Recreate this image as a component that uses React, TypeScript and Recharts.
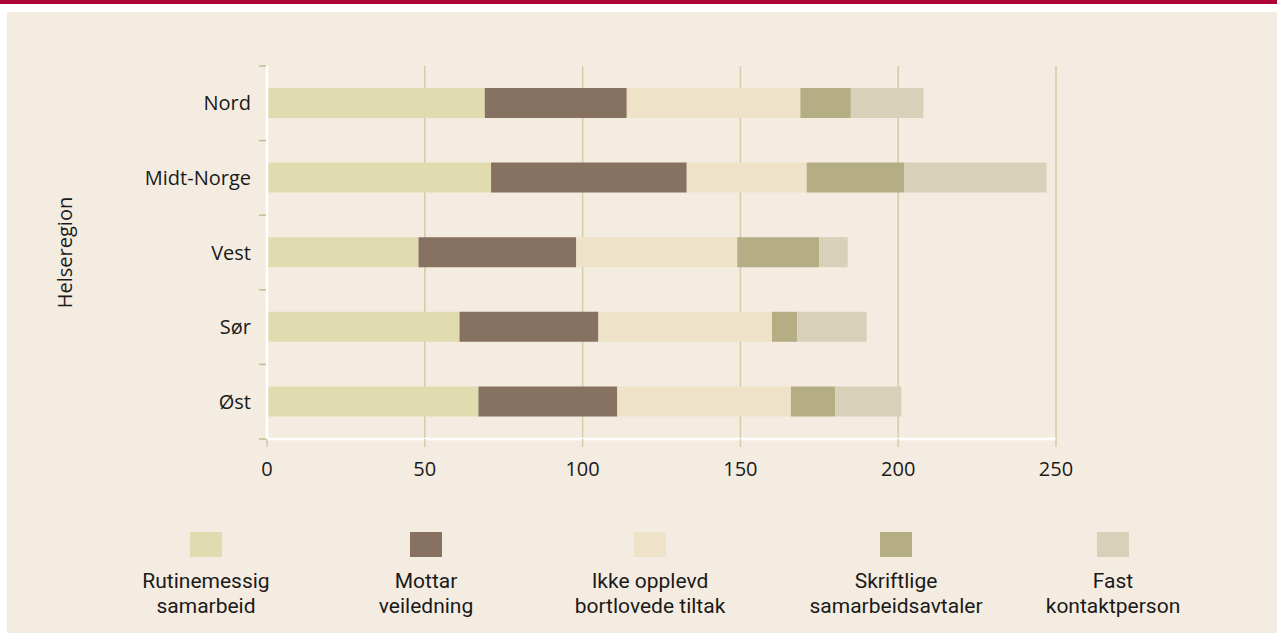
import { BarChart, Bar, XAxis, YAxis, CartesianGrid, Legend } from 'recharts';

const regions = ['Nord', 'Midt-Norge', 'Vest', 'Sør', 'Øst'];
const rutinemessig = [69, 71, 48, 61, 67];
const mottar = [45, 62, 50, 44, 44];
const ikkeOpplevd = [55, 38, 51, 55, 55];
const skriftlige = [16, 31, 26, 8, 14];
const fastKontakt = [23, 45, 9, 22, 21];
const xTicks = [0, 50, 100, 150, 200, 250];

const seriesKeys = ['rutinemessig', 'mottar', 'ikkeOpplevd', 'skriftlige', 'fastKontakt'];
const seriesNames = [
  'Rutinemessig\nsamarbeid',
  'Mottar\nveiledning',
  'Ikke opplevd\nbortlovede tiltak',
  'Skriftlige\nsamarbeidsavtaler',
  'Fast\nkontaktperson',
];
const seriesColors = ['#E0DCAF', '#877160', '#EEE3C8', '#B5AE84', '#D9D0BA'];

const data = regions.map((region, i) => ({
  region,
  rutinemessig: rutinemessig[i],
  mottar: mottar[i],
  ikkeOpplevd: ikkeOpplevd[i],
  skriftlige: skriftlige[i],
  fastKontakt: fastKontakt[i],
}));

const W = 1270;
const H = 621;
const X_AXIS_H = 30;
const M = { top: 54, right: 221, bottom: 194 - X_AXIS_H, left: 0 };
const PLOT_H = H - M.top - M.bottom - X_AXIS_H;
const FONT = "'Open Sans', 'Noto Sans', sans-serif";
const LEGEND_FONT = "Roboto, 'Open Sans', sans-serif";
const FS = 20;
const TEXT = '#1a1a1a';
const GRID = '#D4CBA9';

const RegionTick = (props: any) => {
  const { x, y, payload, index } = props;
  const band = PLOT_H / regions.length;
  return (
    <g>
      <line x1={x - 8} x2={x - 1} y1={y - band / 2} y2={y - band / 2} stroke="#C4BB92" strokeWidth={1.5} />
      {index === regions.length - 1 && (
        <line x1={x - 8} x2={x - 1} y1={y + band / 2} y2={y + band / 2} stroke="#C4BB92" strokeWidth={1.5} />
      )}
      <text x={x - 16} y={y} dy="0.35em" textAnchor="end" fill={TEXT} fontSize={FS} fontFamily={FONT}>
        {payload.value}
      </text>
    </g>
  );
};

// legend item centres, in panel coordinates
const legendX = [199, 419, 643, 889, 1106];

const renderLegend = (props: any) => {
  const items = [...(props.payload || [])].sort(
    (a: any, b: any) => seriesKeys.indexOf(a.dataKey) - seriesKeys.indexOf(b.dataKey)
  );
  return (
    <div style={{ position: 'relative', width: W, height: 100, fontFamily: LEGEND_FONT }}>
      {items.map((entry: any, i: number) => {
        const lines = String(entry.value).split('\n');
        return (
          <div
            key={entry.dataKey}
            style={{
              position: 'absolute',
              left: legendX[i] - 110,
              top: 0,
              width: 220,
              textAlign: 'center',
              color: TEXT,
              fontSize: 21,
              lineHeight: '25px',
            }}
          >
            <div style={{ width: 32, height: 25, background: entry.color, margin: '5px auto 12px' }} />
            {lines.map((l) => (
              <div key={l}>{l}</div>
            ))}
          </div>
        );
      })}
    </div>
  );
};

export default function App() {
  return (
    <div style={{ position: 'absolute', left: 0, top: 0, width: 1277, height: 635, background: '#fff', fontFamily: FONT }}>
      <div style={{ position: 'absolute', left: 0, top: 0, width: 1277, height: 4, background: '#AE0634' }} />
      <div style={{ position: 'absolute', left: 7, top: 12, width: W, height: H, background: '#F4ECE0' }}>
        <BarChart layout="vertical" width={W} height={H} data={data} margin={M} barSize={30} barCategoryGap={0}>
          <CartesianGrid horizontal={false} stroke={GRID} strokeWidth={1.5} />
          <XAxis
            type="number"
            domain={[0, 250]}
            ticks={xTicks}
            interval={0}
            height={X_AXIS_H}
            axisLine={{ stroke: '#ffffff', strokeWidth: 2.5 }}
            tickLine={{ stroke: GRID, strokeWidth: 1.5 }}
            tickSize={8}
            tickMargin={15}
            tick={{ fill: TEXT, fontSize: FS, fontFamily: FONT }}
          />
          <YAxis
            type="category"
            dataKey="region"
            width={260}
            axisLine={{ stroke: '#ffffff', strokeWidth: 2.5 }}
            tickLine={false}
            tickSize={0}
            tickMargin={0}
            tick={<RegionTick />}
            interval={0}
            label={(p: any) => {
              const vb = p.viewBox || {};
              const cx = 57;
              const cy = (vb.y ?? M.top) + (vb.height ?? PLOT_H) / 2;
              return (
                <text
                  x={cx}
                  y={cy}
                  transform={`rotate(-90, ${cx}, ${cy})`}
                  textAnchor="middle"
                  dominantBaseline="central"
                  fill={TEXT}
                  fontSize={FS}
                  fontFamily={FONT}
                >
                  Helseregion
                </text>
              );
            }}
          />
          <Legend
            layout="horizontal"
            verticalAlign="middle"
            align="center"
            wrapperStyle={{ top: 515, left: 0, width: W, height: 100 }}
            content={renderLegend}
          />
          {seriesKeys.map((k, i) => (
            <Bar
              key={k}
              dataKey={k}
              name={seriesNames[i]}
              stackId="a"
              fill={seriesColors[i]}
              isAnimationActive={false}
            />
          ))}
        </BarChart>
      </div>
    </div>
  );
}
